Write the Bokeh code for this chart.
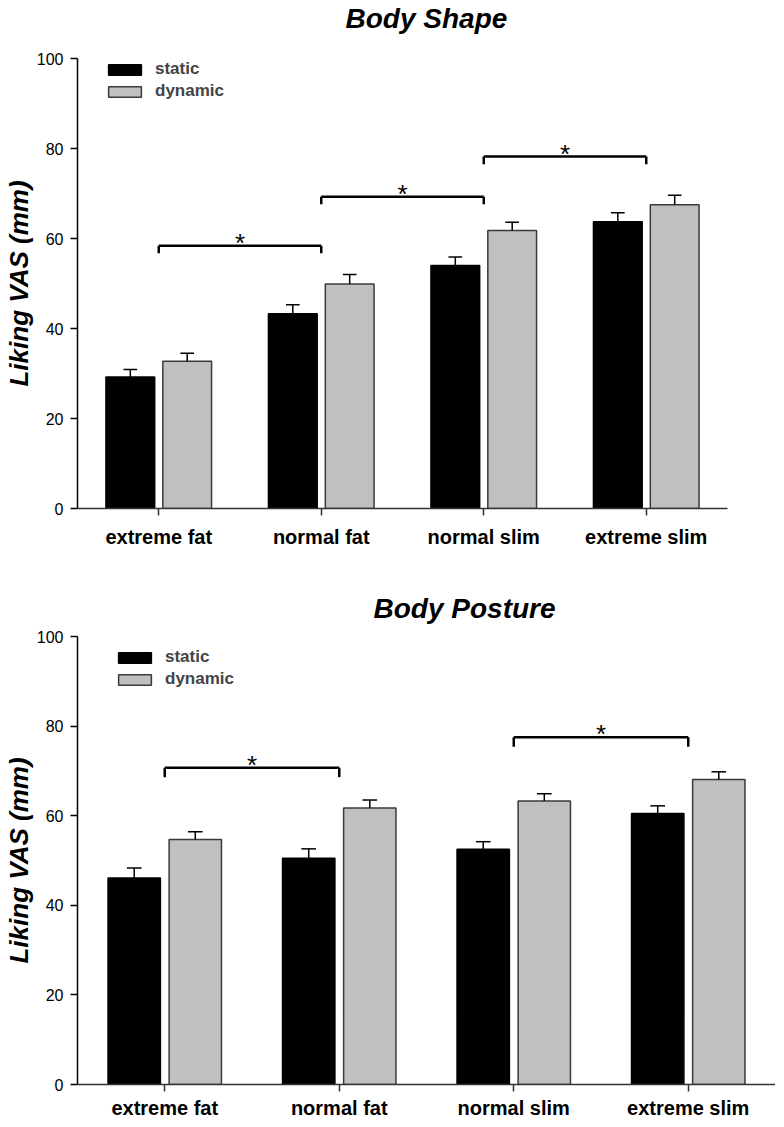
from bokeh.plotting import figure
from bokeh.models import (ColumnDataSource, FactorRange, Range1d, Legend, LegendItem,
                          Title, FixedTicker)
from bokeh.transform import dodge
from bokeh.layouts import column
from bokeh.embed import file_html
from bokeh.resources import INLINE
from bokeh.core.properties import value

# ---------------- data ----------------
categories = ["extreme fat", "normal fat", "normal slim", "extreme slim"]
series_names = ["static", "dynamic"]
y_ticks = [0, 20, 40, 60, 80, 100]

shape_title = "Body Shape"
shape_static = [29.2, 43.3, 54.0, 63.7]
shape_static_err = [1.7, 2.0, 1.9, 2.0]
shape_dynamic = [32.7, 49.9, 61.8, 67.5]
shape_dynamic_err = [1.8, 2.1, 1.8, 2.1]
shape_sig_from = ["extreme fat", "normal fat", "normal slim"]
shape_sig_to = ["normal fat", "normal slim", "extreme slim"]
shape_sig_y = [58.4, 69.3, 78.2]

posture_title = "Body Posture"
posture_static = [46.1, 50.5, 52.5, 60.5]
posture_static_err = [2.2, 2.1, 1.7, 1.7]
posture_dynamic = [54.7, 61.7, 63.3, 68.1]
posture_dynamic_err = [1.7, 1.8, 1.6, 1.7]
posture_sig_from = ["extreme fat", "normal slim"]
posture_sig_to = ["normal fat", "extreme slim"]
posture_sig_y = [70.7, 77.5]

FONT = "Liberation Sans"
STATIC_COLOR = "#000000"
DYNAMIC_COLOR = "#c0c0c0"
DYNAMIC_LINE = "#3a3a3a"


def make_chart(title, s_vals, s_err, d_vals, d_err, sig_from, sig_to, sig_y,
               frame_w, frame_h, border_top, border_right, border_bottom,
               label_standoff, title_offset, title_standoff, spacer_standoff,
               legend_loc, drop):
    p = figure(x_range=FactorRange(factors=categories, range_padding=0),
               y_range=Range1d(0, 100),
               frame_width=frame_w, frame_height=frame_h,
               min_border_left=70, min_border_right=border_right,
               min_border_top=border_top, min_border_bottom=border_bottom,
               output_backend="svg", toolbar_location=None)
    p.xgrid.grid_line_color = None
    p.ygrid.grid_line_color = None
    p.outline_line_color = None
    p.background_fill_color = "white"
    p.border_fill_color = "white"

    if spacer_standoff is not None:
        # thin empty panel between the frame and the title, to lift the title
        p.add_layout(Title(text=" ", standoff=spacer_standoff,
                           text_font=FONT, text_font_size="2px"), "above")
    p.add_layout(Title(text=title, align="left", offset=title_offset,
                       standoff=title_standoff, text_font=FONT,
                       text_font_size="28px", text_font_style="bold italic",
                       text_color="black"), "above")

    off = 0.175
    bw = 0.3
    cap = 0.042

    series = [
        (series_names[0], s_vals, s_err, -off, STATIC_COLOR, STATIC_COLOR),
        (series_names[1], d_vals, d_err, off, DYNAMIC_COLOR, DYNAMIC_LINE),
    ]
    items = []
    for name, vals, errs, o, fill, line in series:
        src = ColumnDataSource(dict(cat=categories, val=vals,
                                    top=[v + e for v, e in zip(vals, errs)]))
        r = p.vbar(x=dodge("cat", o, range=p.x_range), top="val", bottom=0,
                   width=bw, source=src, fill_color=fill, line_color=line,
                   line_width=1.5)
        items.append(LegendItem(label=name, renderers=[r]))
        p.segment(x0=dodge("cat", o, range=p.x_range), y0="val",
                  x1=dodge("cat", o, range=p.x_range), y1="top",
                  source=src, line_color="black", line_width=1.5)
        p.segment(x0=dodge("cat", o - cap, range=p.x_range), y0="top",
                  x1=dodge("cat", o + cap, range=p.x_range), y1="top",
                  source=src, line_color="black", line_width=1.5)

    bsrc = ColumnDataSource(dict(f=sig_from, t=sig_to, h=sig_y,
                                 hd=[h - drop for h in sig_y]))
    p.segment(x0="f", y0="h", x1="t", y1="h", source=bsrc,
              line_color="black", line_width=2.5)
    p.segment(x0="f", y0="h", x1="f", y1="hd", source=bsrc,
              line_color="black", line_width=2.5)
    p.segment(x0="t", y0="h", x1="t", y1="hd", source=bsrc,
              line_color="black", line_width=2.5)
    p.text(x=dodge("f", 0.5, range=p.x_range), y="h", text=value("*"),
           source=bsrc, text_align="center", text_baseline="middle",
           text_font=value(FONT), text_font_size="26px", y_offset=-3,
           text_color="black")

    legend = Legend(items=items, location=legend_loc, orientation="vertical",
                    glyph_width=41, glyph_height=13, label_standoff=10,
                    padding=0, margin=0, spacing=2,
                    label_text_font=FONT, label_text_font_style="bold",
                    label_text_font_size="17px",
                    border_line_alpha=0, background_fill_alpha=0)
    p.add_layout(legend, "center")

    # axes
    xa = p.xaxis[0]
    xa.axis_line_color = "#333333"
    xa.axis_line_width = 1.5
    xa.major_tick_line_color = "#333333"
    xa.major_tick_line_width = 1.5
    xa.major_tick_in = 0
    xa.major_tick_out = 7
    xa.major_label_standoff = label_standoff
    xa.major_label_text_font = FONT
    xa.major_label_text_font_style = "bold"
    xa.major_label_text_font_size = "20px"
    xa.major_label_text_color = "black"

    ya = p.yaxis[0]
    ya.ticker = FixedTicker(ticks=y_ticks)
    ya.axis_line_color = "black"
    ya.axis_line_width = 1.5
    ya.major_tick_line_color = "black"
    ya.major_tick_line_width = 1.5
    ya.major_tick_in = 0
    ya.major_tick_out = 7
    ya.minor_tick_line_color = None
    ya.major_label_standoff = 7
    ya.major_label_text_font = FONT
    ya.major_label_text_font_size = "16px"
    ya.major_label_text_color = "black"
    ya.axis_label = "Liking VAS (mm)"
    ya.axis_label_text_font = FONT
    ya.axis_label_text_font_style = "bold italic"
    ya.axis_label_text_font_size = "26px"
    ya.axis_label_text_color = "black"
    ya.axis_label_standoff = 0
    return p


p1 = make_chart(shape_title, shape_static, shape_static_err, shape_dynamic,
                shape_dynamic_err, shape_sig_from, shape_sig_to, shape_sig_y,
                frame_w=650, frame_h=450, border_top=58, border_right=48,
                border_bottom=39, label_standoff=10,
                title_offset=268, title_standoff=0, spacer_standoff=20.5,
                legend_loc=(27, 407), drop=1.7)

p2 = make_chart(posture_title, posture_static, posture_static_err, posture_dynamic,
                posture_dynamic_err, posture_sig_from, posture_sig_to, posture_sig_y,
                frame_w=698, frame_h=448, border_top=86, border_right=0,
                border_bottom=33, label_standoff=5,
                title_offset=296, title_standoff=26, spacer_standoff=None,
                legend_loc=(37, 395), drop=2.1)

layout = column(p1, p2, spacing=0)
open("out.html", "w").write(file_html(layout, INLINE))
